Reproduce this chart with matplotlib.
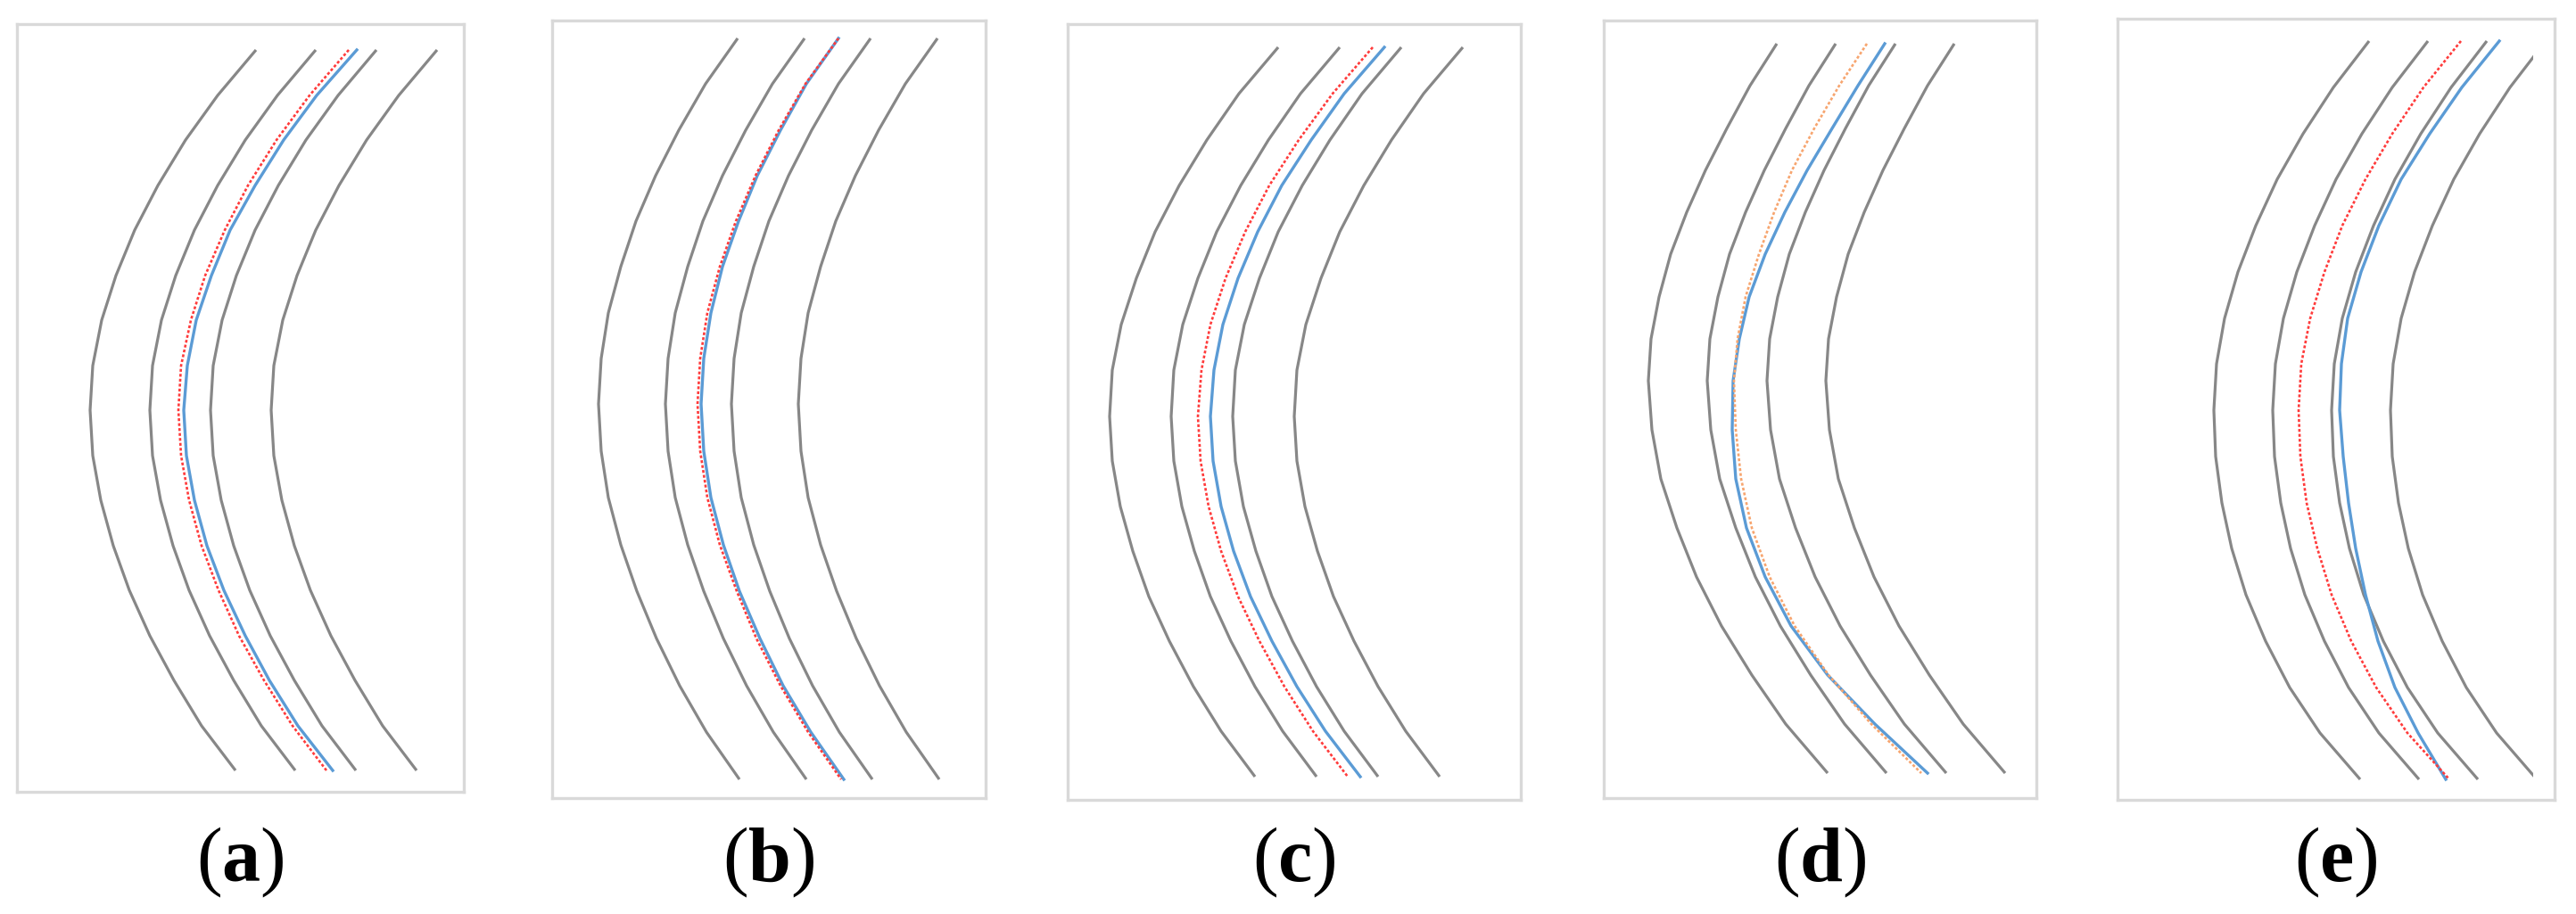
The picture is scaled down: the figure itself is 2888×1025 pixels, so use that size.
import matplotlib.pyplot as plt
from matplotlib.patches import Rectangle

plt.rcParams['mathtext.fontset'] = 'custom'
plt.rcParams['mathtext.rm'] = 'Liberation Serif'
plt.rcParams['mathtext.bf'] = 'Liberation Serif:bold'

# blade profiles (x across, y down, pixels from the box corner)
# (a)
a_y = [29, 80, 130, 181, 231, 282, 332, 383, 433, 484, 534, 585, 635, 686, 736, 787, 837]
a_blade = [268, 225, 189, 158, 132, 111, 95, 85, 82, 85, 94, 108, 126, 149, 176, 207, 245]
a_pitch = [0, 67, 135, 203]
a_red = [372, 328, 291, 259, 233, 211, 195, 184, 181, 184, 193, 207, 226, 249, 277, 309, 347]
a_blue = [381, 336, 299, 267, 239, 218, 201, 191, 187, 190, 199, 213, 232, 256, 283, 315, 354]

# (b)
b_y = [20, 71, 123, 174, 225, 276, 328, 379, 430, 483, 535, 588, 640, 693, 746, 798, 851]
b_blade = [208, 172, 142, 116, 94, 77, 63, 55, 52, 55, 63, 77, 95, 117, 143, 173, 210]
b_pitch = [0, 75, 149, 224]
b_red = [321, 284, 254, 228, 206, 188, 174, 166, 163, 166, 174, 188, 207, 229, 256, 287, 324]
b_blue = [321, 285, 256, 230, 209, 191, 178, 170, 167, 170, 178, 192, 210, 233, 259, 290, 327]

# (c)
c_y = [26, 78, 130, 181, 233, 285, 337, 388, 440, 490, 541, 591, 642, 692, 743, 793, 844]
c_blade = [236, 192, 156, 125, 98, 77, 60, 50, 47, 50, 59, 73, 91, 114, 141, 172, 210]
c_pitch = [0, 69, 138, 207]
c_red = [342, 297, 259, 226, 199, 177, 160, 150, 146, 149, 158, 172, 191, 215, 243, 275, 314]
c_blue = [355, 310, 273, 240, 213, 191, 174, 164, 160, 163, 172, 186, 205, 229, 257, 289, 328]

# (d)
d_y = [26, 73, 121, 168, 215, 262, 310, 357, 404, 459, 514, 569, 624, 679, 734, 789, 844]
d_blade = [194, 164, 138, 114, 93, 75, 62, 53, 50, 54, 64, 82, 104, 132, 166, 204, 251]
d_pitch = [0, 66, 133, 199]
d_red = [295, 264, 236, 211, 191, 174, 159, 150, 146, 148, 154, 166, 186, 214, 252, 300, 356]
d_blue = [315, 285, 256, 228, 203, 181, 163, 152, 145, 144, 148, 160, 181, 210, 251, 304, 363]

# (e)
e_y = [25, 77, 129, 180, 232, 284, 336, 387, 439, 491, 543, 594, 646, 698, 750, 801, 853]
e_blade = [282, 242, 208, 179, 155, 135, 120, 111, 108, 110, 117, 128, 144, 166, 193, 227, 272]
e_pitch = [0, 66, 132, 198]
e_red = [385, 343, 308, 278, 252, 232, 216, 206, 203, 205, 212, 224, 240, 262, 290, 325, 372]
e_blue = [428, 386, 350, 318, 293, 273, 258, 251, 249, 253, 259, 267, 278, 292, 311, 337, 368]

labels = ['a', 'b', 'c', 'd', 'e']
panels = [
    (a_y, a_blade, a_pitch, a_red, a_blue),
    (b_y, b_blade, b_pitch, b_red, b_blue),
    (c_y, c_blade, c_pitch, c_red, c_blue),
    (d_y, d_blade, d_pitch, d_red, d_blue),
    (e_y, e_blade, e_pitch, e_red, e_blue),
]
dash_colors = ['#ff3b3b', '#ff3b3b', '#ff3b3b', '#f7a56f', '#ff3b3b']
e_clip = 466  # last blade of (e) is cut at the right

# box of each panel in image pixels: left, top, right, bottom
boxes = [(19, 27, 520, 888), (619, 23, 1105, 895), (1197, 27, 1705, 897),
         (1798, 23, 2283, 895), (2374, 21, 2864, 897)]

W, H = 2888, 1025
fig = plt.figure(figsize=(W / 100, H / 100), dpi=100)

for i, (lab, (ys, blade, pitch, red, blue)) in enumerate(zip(labels, panels)):
    l, t, r, b = boxes[i]
    ax = fig.add_axes([l / W, 1 - b / H, (r - l) / W, (b - t) / H])
    ax.set_xlim(0, r - l)
    ax.set_ylim(b - t, 0)
    ax.set_xticks([])
    ax.set_yticks([])
    for s in ax.spines.values():
        s.set_color('#d9d9d9')
        s.set_linewidth(2.4)

    for k, p in enumerate(pitch):
        ln, = ax.plot([x + p for x in blade], ys, color='#878787', lw=2.3,
                      solid_capstyle='butt', solid_joinstyle='round')
        if lab == 'e' and k == 3:
            ln.set_clip_path(Rectangle((0, 0), e_clip, b - t, transform=ax.transData))

    ax.plot(blue, ys, color='#5b9bd5', lw=2.4, solid_joinstyle='round')
    ax.plot(red, ys, color=dash_colors[i], lw=1.9, dashes=(1.2, 0.9))

    fig.text((l + r) / 2 / W, 1 - 988 / H, r'$\mathrm{(}\mathbf{%s}\mathrm{)}$' % lab,
             ha='center', va='baseline', fontsize=62)

fig.savefig('out.png', dpi=100, facecolor='white')
